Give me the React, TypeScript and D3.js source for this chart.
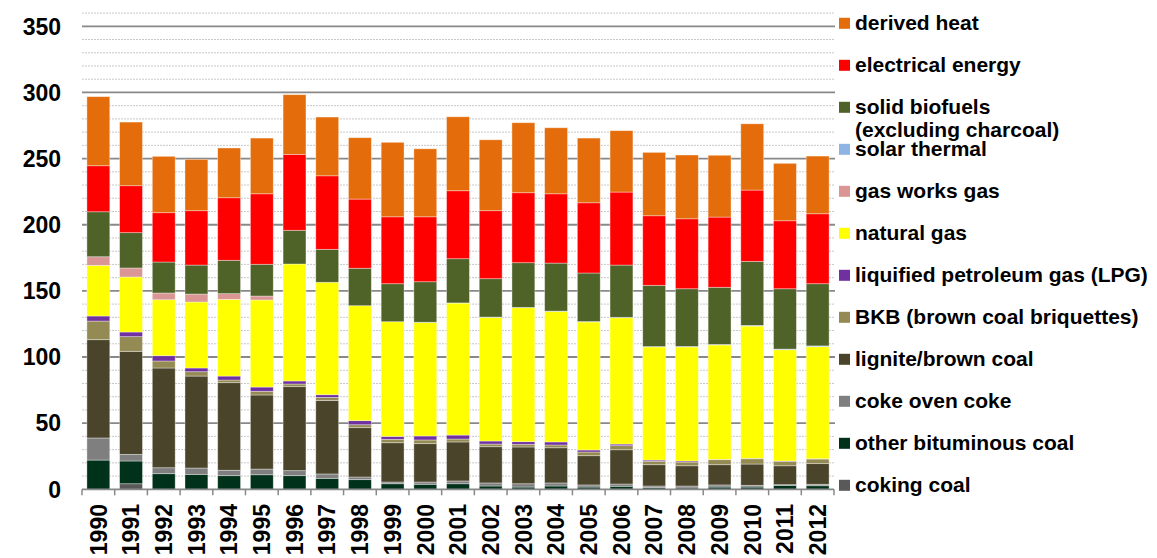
import React from "react";
import * as d3 from "d3";

const years = ["1990","1991","1992","1993","1994","1995","1996","1997","1998","1999","2000","2001","2002","2003","2004","2005","2006","2007","2008","2009","2010","2011","2012"];

const cokingCoal = [0, 4.2, 0, 0, 0, 0, 0, 0, 0, 0, 0, 0, 0, 0, 0, 0, 0, 0, 0, 0, 0, 0, 0];
const otherBituminousCoal = [22.1, 17.2, 11.8, 11.3, 10.3, 11.0, 10.3, 8.3, 7.3, 4.2, 3.8, 4.2, 2.5, 1.7, 2.5, 1.7, 2.3, 1.2, 1.0, 1.7, 1.7, 3.0, 2.7];
const cokeOvenCoke = [16.7, 5.0, 4.5, 4.8, 4.1, 4.3, 3.8, 3.3, 2.0, 1.3, 1.7, 2.1, 2.3, 2.5, 2.3, 1.6, 1.7, 1.3, 1.5, 1.6, 1.3, 0.5, 1.1];
const ligniteBrownCoal = [74.3, 77.9, 75.4, 69.5, 66.2, 56.0, 63.5, 55.6, 37.3, 29.7, 29.0, 29.5, 27.4, 27.8, 26.6, 22.1, 25.9, 16.1, 15.3, 15.3, 16.1, 14.3, 15.6];
const bkb = [14.1, 11.1, 5.3, 3.3, 2.0, 2.8, 2.0, 2.3, 2.2, 2.6, 2.8, 2.2, 2.0, 2.0, 2.1, 2.8, 3.1, 2.6, 2.8, 3.8, 4.0, 3.4, 3.5];
const lpg = [3.8, 3.5, 4.0, 2.8, 3.0, 3.2, 2.3, 2.0, 3.1, 2.2, 3.0, 3.0, 2.3, 2.0, 2.3, 1.5, 1.2, 0.9, 0.8, 0.2, 0.3, 0.2, 0.2];
const naturalGas = [38.3, 41.6, 42.3, 49.9, 58.0, 65.8, 88.4, 85.0, 86.9, 86.7, 85.9, 99.8, 93.5, 101.3, 98.7, 96.8, 95.5, 85.5, 86.2, 86.5, 100.0, 84.1, 84.7];
const gasWorksGas = [6.5, 6.8, 5.1, 6.0, 4.3, 3.0, 0, 0, 0, 0, 0, 0, 0, 0, 0, 0, 0, 0, 0, 0, 0, 0, 0];
const solarThermal = [0, 0, 0, 0, 0, 0, 0, 0, 0, 0, 0.1, 0.1, 0.2, 0.2, 0.2, 0.3, 0.3, 0.3, 0.4, 0.4, 0.5, 0.5, 0.6];
const solidBiofuels = [34.0, 26.7, 23.4, 21.9, 25.2, 24.0, 25.5, 24.9, 28.3, 28.7, 30.6, 33.4, 29.0, 33.8, 36.3, 36.7, 39.5, 46.3, 43.6, 43.2, 48.4, 45.6, 47.0];
const electricalEnergy = [34.8, 35.5, 37.3, 41.1, 47.3, 53.3, 57.4, 55.6, 52.3, 50.6, 49.1, 51.4, 51.4, 52.9, 52.4, 53.1, 55.2, 52.6, 52.9, 53.1, 53.9, 51.4, 52.9];
const derivedHeat = [52.2, 48.1, 42.6, 38.8, 37.6, 42.1, 45.1, 44.4, 46.4, 56.3, 51.4, 55.9, 53.6, 52.9, 49.9, 48.9, 46.4, 47.9, 48.2, 46.7, 50.1, 43.4, 43.6];

const seriesKeys = ["coking", "otherBit", "cokeOven", "lignite", "bkb", "lpg", "natGas", "gasWorks", "solar", "biofuels", "electrical", "heat"];
const seriesValues = [cokingCoal, otherBituminousCoal, cokeOvenCoke, ligniteBrownCoal, bkb, lpg, naturalGas, gasWorksGas, solarThermal, solidBiofuels, electricalEnergy, derivedHeat];
const seriesLabels = ["coking coal", "other bituminous coal", "coke oven coke", "lignite/brown coal", "BKB (brown coal briquettes)", "liquified petroleum gas (LPG)", "natural gas", "gas works gas", "solar thermal", "solid biofuels|(excluding charcoal)", "electrical energy", "derived heat"];
const seriesColors = ["#595959", "#00311A", "#7F7F7F", "#4A452A", "#948A54", "#7030A0", "#FFFF00", "#D99694", "#8EB4E3", "#4F6228", "#FF0000", "#E46C0A"];

const yTicks = [0, 50, 100, 150, 200, 250, 300, 350];
const yMinor = d3.range(0, 361, 10);

const W = 1157, H = 558;
const FONT = "'Liberation Sans', Arial, sans-serif";

export default function App() {
  const rows = years.map((y, i) => {
    const r: Record<string, any> = { year: y };
    seriesKeys.forEach((k, j) => (r[k] = seriesValues[j][i]));
    return r;
  });
  const stacked = d3.stack().keys(seriesKeys)(rows as any);

  const x = d3.scaleBand<string>().domain(years).range([82, 834]).paddingInner(0.3).paddingOuter(0.15);
  const y = d3.scaleLinear().domain([0, 350]).range([489.3, 26.3]);
  const step = x.step();
  const x0 = 82, x1 = 835;

  return (
    <div style={{ position: "fixed", left: 0, top: 0, width: W, height: H, background: "#fff" }}>
      <svg width={W} height={H} style={{ display: "block" }} fontFamily={FONT}>
        {yMinor.filter((v) => v % 50 !== 0).map((v) => (
          <line key={"m" + v} x1={x0} x2={x1} y1={y(v)} y2={y(v)} stroke="#C8C8C8" strokeWidth={1} strokeDasharray="2,1" />
        ))}
        {yTicks.filter((v) => v > 0).map((v) => (
          <line key={"g" + v} x1={x0} x2={x1} y1={y(v)} y2={y(v)} stroke="#888888" strokeWidth={1.8} />
        ))}
        {stacked.map((s, si) => (
          <g key={s.key} fill={seriesColors[si]}>
            {s.map((d, i) => {
              const h = y(d[0]) - y(d[1]);
              if (h <= 0) return null;
              return (
                <rect key={i} x={x(years[i])} y={y(d[1])} width={x.bandwidth()} height={h}
                  stroke="rgba(255,255,255,0.45)" strokeWidth={0.8} />
              );
            })}
          </g>
        ))}
        <line x1={x0} x2={x1 - 1} y1={y(0)} y2={y(0)} stroke="#888888" strokeWidth={1.8} />
        {d3.range(years.length + 1).map((i) => (
          <line key={"t" + i} x1={82 + i * step} x2={82 + i * step} y1={y(0)} y2={y(0) + 6} stroke="#888888" strokeWidth={1.5} />
        ))}
        {yTicks.map((v) => (
          <text key={"yl" + v} x={61} y={y(v)} dy="0.36em" textAnchor="end" fontSize={23} fontWeight="bold" fill="#000">{v}</text>
        ))}
        {years.map((yr) => (
          <text key={"xl" + yr} transform={`translate(${(x(yr) as number) + x.bandwidth() / 2},504) rotate(-90)`} dy="0.36em" textAnchor="end" fontSize={23} fontWeight="bold" fill="#000">{yr}</text>
        ))}
        {seriesKeys.map((k, i) => {
          const idx = seriesKeys.length - 1 - i;
          const cy = 23.3 + i * 42.0;
          const lines = seriesLabels[idx].split("|");
          return (
            <g key={"lg" + k}>
              <rect x={839} y={cy - 5.5} width={11} height={11} fill={seriesColors[idx]} />
              <text x={855} y={cy + 6.5} fontSize={21} fontWeight="bold" fill="#000">
                {lines.map((t, li) => (
                  <tspan key={li} x={855} dy={li === 0 ? 0 : 23.4}>{t}</tspan>
                ))}
              </text>
            </g>
          );
        })}
      </svg>
    </div>
  );
}
